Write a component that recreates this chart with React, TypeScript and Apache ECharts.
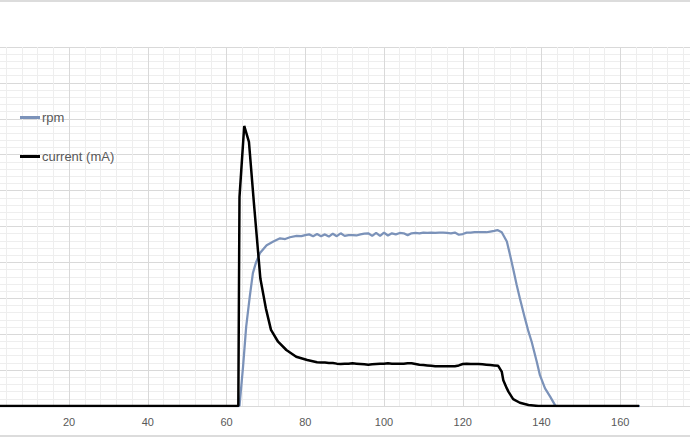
import React, { useEffect, useRef } from "react";
import * as echarts from "echarts";

// Time axis ticks
const xTicks = [0, 20, 40, 60, 80, 100, 120, 140, 160, 180];

// rpm series: [time, value]
const rpmStart: [number, number][] = [
  [0, 0], [63.3, 0], [64.2, 109], [65, 221], [65.9, 304], [66.7, 370], [67.5, 400],
  [68.5, 426], [70.2, 448], [71.9, 458], [73.6, 467], [74.9, 465], [76.1, 470],
  [77.8, 474], [79, 473],
];
const rpmPlateauT = [
  80, 81, 82, 83, 84, 85, 86, 87, 88, 89, 90, 91, 92, 93, 94, 95, 96, 97, 98, 99,
  100, 101, 102, 103, 104, 105, 106, 107, 108, 109, 110, 111, 112, 113, 114, 115,
  116, 117, 118, 119, 120, 121, 122, 123, 124, 125, 126, 127, 128,
];
const rpmPlateauV = [
  476, 478, 473, 479, 473, 478, 472, 480, 473, 481, 474, 476, 476, 475, 478, 480,
  481, 474, 482, 474, 483, 475, 481, 478, 482, 481, 476, 481, 482, 481, 483, 482,
  483, 482, 483, 483, 482, 481, 483, 477, 479, 483, 483, 484, 484, 484, 484, 486, 488,
];
const rpmEnd: [number, number][] = [
  [128.8, 490], [129.9, 484], [131.2, 458], [132, 421], [132.8, 382], [133.7, 337],
  [134.5, 300], [135.8, 244], [136.7, 207], [137.5, 179], [138.8, 123], [139.6, 86],
  [140.9, 49], [142.2, 26], [143.4, 3], [143.7, 0], [165, 0],
];

// current (mA) series
const curStart: [number, number][] = [
  [0, 0], [63, 0], [63.3, 582], [64.5, 780], [65.7, 736], [67, 560], [68.6, 355],
  [70, 272], [71.3, 212], [73.1, 179], [75.2, 156], [77.7, 137], [80.5, 128],
];
const curPlateauT = [
  83, 84, 85, 86, 87, 88, 89, 90, 91, 92, 93, 94, 95, 96, 97, 98, 99, 100, 101, 102,
  103, 104, 105, 106, 107, 108, 109, 110, 111, 112, 113, 114, 115, 116, 117, 118,
  119, 120, 121, 122, 123, 124, 125, 126, 127, 128, 129,
];
const curPlateauV = [
  122, 121, 121, 120, 120, 118, 117, 118, 118, 119, 118, 117, 116, 115, 116, 117,
  118, 118, 119, 118, 118, 118, 118, 119, 119, 117, 115, 114, 113, 112, 111, 111,
  111, 111, 111, 111, 113, 117, 118, 117, 117, 117, 116, 115, 114, 113, 112,
];
const curEnd: [number, number][] = [
  [129.9, 96], [130.3, 72], [131.2, 49], [131.6, 40], [132.4, 26], [132.8, 19],
  [134.5, 9], [136.7, 3], [139.2, 0], [164.8, 0],
];

const seriesNames = ["rpm", "current (mA)"];

export default function App() {
  const ref = useRef<HTMLDivElement>(null);
  useEffect(() => {
    if (!ref.current) return;
    const chart = echarts.init(ref.current, undefined, { renderer: "svg" });
    const rpmData = [
      ...rpmStart,
      ...rpmPlateauT.map((t, i) => [t, rpmPlateauV[i]] as [number, number]),
      ...rpmEnd,
    ];
    const curData = [
      ...curStart,
      ...curPlateauT.map((t, i) => [t, curPlateauV[i]] as [number, number]),
      ...curEnd,
    ];
    chart.setOption({
      animation: false,
      backgroundColor: "#ffffff",
      grid: {
        left: -9.75,
        right: -9,
        top: 47,
        bottom: 31,
        containLabel: false,
        outerBoundsMode: "none",
      },
      legend: {
        orient: "vertical",
        left: 20,
        top: 111,
        padding: 0,
        itemGap: 26,
        itemWidth: 20,
        itemHeight: 3,
        textStyle: {
          color: "#595959",
          fontSize: 13,
          fontFamily: "Liberation Sans",
          padding: [0, 0, 0, -3],
        },
        data: [
          { name: seriesNames[0], icon: "rect" },
          { name: seriesNames[1], icon: "rect" },
        ],
      },
      xAxis: {
        type: "value",
        min: xTicks[0],
        max: xTicks[xTicks.length - 1],
        interval: 20,
        axisLine: { show: true, lineStyle: { color: "#d9d9d9" } },
        axisTick: { show: false },
        axisLabel: {
          color: "#595959",
          fontSize: 11,
          fontFamily: "Liberation Sans",
          margin: 10,
          showMinLabel: false,
        },
        splitLine: { show: true, lineStyle: { color: "#d9d9d9", width: 1 } },
        minorTick: { show: false, splitNumber: 5 },
        minorSplitLine: { show: true, lineStyle: { color: "#eeeeee", width: 1 } },
      },
      yAxis: {
        type: "value",
        min: 0,
        max: 1000,
        interval: 100,
        axisLine: { show: false },
        axisTick: { show: false },
        axisLabel: { show: false },
        splitLine: { show: true, lineStyle: { color: "#d9d9d9", width: 1 } },
        minorTick: { show: false, splitNumber: 5 },
        minorSplitLine: { show: true, lineStyle: { color: "#eeeeee", width: 1 } },
      },
      graphic: [
        { type: "line", shape: { x1: 0, y1: 1, x2: 690, y2: 1 }, style: { stroke: "#dcdcdc", lineWidth: 2 } },
        { type: "line", shape: { x1: 0, y1: 436, x2: 690, y2: 436 }, style: { stroke: "#dcdcdc", lineWidth: 2 } },
      ],
      series: [
        {
          name: seriesNames[0],
          type: "line",
          data: rpmData,
          symbol: "none",
          lineStyle: { color: "#7b92b9", width: 2.25 },
          itemStyle: { color: "#7b92b9" },
          z: 2,
        },
        {
          name: seriesNames[1],
          type: "line",
          data: curData,
          symbol: "none",
          lineStyle: { color: "#000000", width: 2.5 },
          itemStyle: { color: "#000000" },
          z: 3,
        },
      ],
    });
    return () => chart.dispose();
  }, []);
  return (
    <div
      ref={ref}
      style={{ position: "fixed", left: 0, top: 0, width: 690, height: 437, background: "#fff" }}
    />
  );
}
